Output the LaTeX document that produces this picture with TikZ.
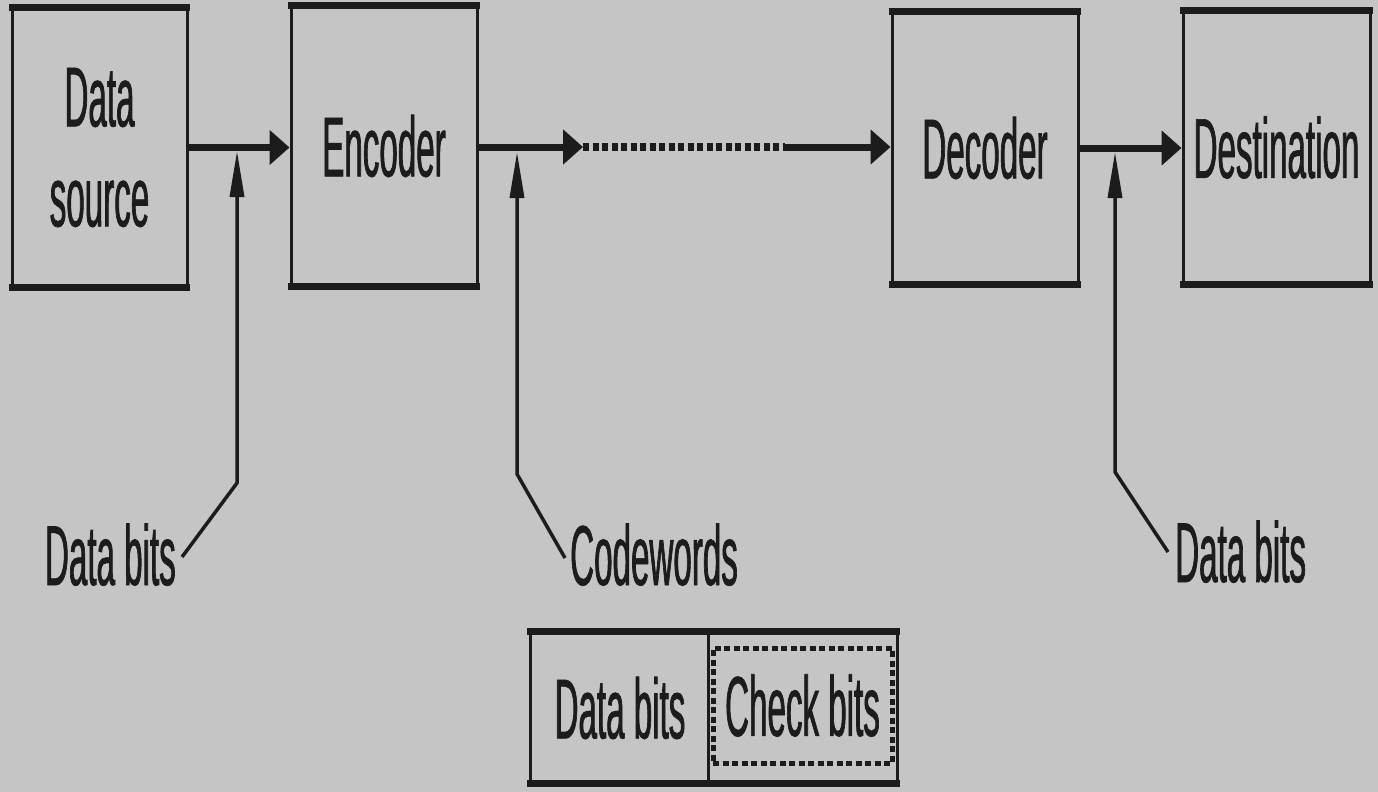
\documentclass[tikz,border=0pt]{standalone}
\usepackage{fontspec}
\setmainfont{Liberation Sans}[FakeStretch=0.39, FakeBold=0.8]
\usetikzlibrary{arrows.meta}
\definecolor{paper}{HTML}{C6C5C5}
\definecolor{ink}{HTML}{1C1C1C}
\begin{document}
\begin{tikzpicture}[x=1pt,y=-1pt,
  every node/.style={text=ink, inner sep=0pt},
  txt/.style={font=\fontsize{85}{100}\selectfont},
  box/.style={txt, draw=ink, line width=3pt, align=center},
  edge/.style={draw=ink, line width=7pt},
  flow/.style={draw=ink, line width=7pt, -{Triangle[length=20pt,width=34pt]}},
  dotflow/.style={draw=ink, line width=8pt, dash pattern=on 6pt off 3.5pt},
  leader/.style={draw=ink, line width=3.5pt, line join=round, -{Triangle[length=46pt,width=14pt]}},
  dashbox/.style={txt, draw=ink, line width=5pt, dash pattern=on 6pt off 3.5pt}
]
% page
\fill[paper] (0,0) rectangle (1378,792);
\useasboundingbox (0,0) rectangle (1378,792);

% blocks of the chain
\node[box, minimum width=175pt, minimum height=276pt] (ds)  at (99.5,147.5) {Data\\source};
\node[box, minimum width=186pt, minimum height=278pt] (enc) at (384,146) {Encoder};
\node[box, minimum width=186pt, minimum height=270pt] (dec) at (985,148) {Decoder};
\node[box, minimum width=187pt, minimum height=271pt] (dst) at (1276.5,147.5) {Destination};

% heavy top and bottom rules of each block
\foreach \n in {ds,enc,dec,dst}{
  \draw[edge] ([xshift=-1.5pt]\n.north west) -- ([xshift=1.5pt]\n.north east);
  \draw[edge] ([xshift=-1.5pt]\n.south west) -- ([xshift=1.5pt]\n.south east);
}

% signal path
\coordinate (m1) at (583,147);
\coordinate (m2) at (785,147);
\draw[flow] (ds.east) -- (ds.east -| enc.west);
\draw[flow] (enc.east |- m1) -- (m1);
\draw[dotflow] (m1) -- (m2);
\draw[flow] (m2) -- (m2 -| dec.west);
\draw[flow] (dec.east) -- (dec.east -| dst.west);

% call-out labels
\node[txt, anchor=base east] (lb1) at (176,585) {Data bits};
\node[txt, anchor=base west] (lb2) at (570,585) {Codewords};
\node[txt, anchor=base west] (lb3) at (1175,582) {Data bits};

\coordinate (e1) at (182,557);  \coordinate (b1) at (237,483);  \coordinate (t1) at (237,151);
\coordinate (e2) at (565,558);  \coordinate (b2) at (517,474);  \coordinate (t2) at (517,152);
\coordinate (e3) at (1168,552); \coordinate (b3) at (1115,472); \coordinate (t3) at (1115,152);
\draw[leader] (e1) -- (b1) -- (t1);
\draw[leader] (e2) -- (b2) -- (t2);
\draw[leader] (e3) -- (b3) -- (t3);

% codeword layout
\node[draw=ink, line width=3pt, minimum width=367pt, minimum height=149pt] (word) at (713.5,707.5) {};
\draw[edge] ([xshift=-1.5pt]word.north west) -- ([xshift=1.5pt]word.north east);
\draw[edge] ([xshift=-1.5pt]word.south west) -- ([xshift=1.5pt]word.south east);
\coordinate (dv) at (708,0);
\draw[draw=ink, line width=3pt] (word.north -| dv) -- (word.south -| dv);
\node[txt] (dbt) at (620,708) {Data bits};
\node[dashbox, minimum width=179pt, minimum height=115pt] (chk) at (802.5,705.5) {Check bits};
\end{tikzpicture}
\end{document}
